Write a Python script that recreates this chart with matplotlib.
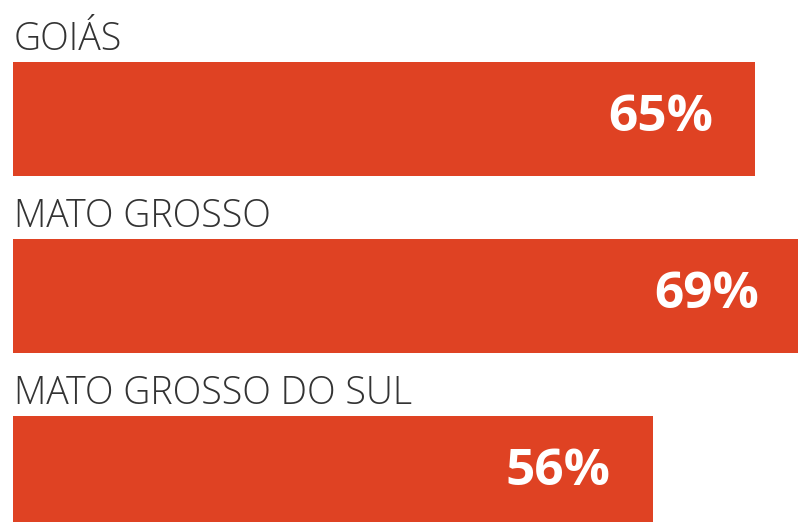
import matplotlib.pyplot as plt

# dados
estados = ['GOIÁS', 'MATO GROSSO', 'MATO GROSSO DO SUL']
valores = [65, 69, 56]
rotulos = ['65%', '69%', '56%']

cor = '#DF4223'

fig = plt.figure(figsize=(7.98, 5.22), dpi=100)
ax = fig.add_axes([12.5 / 798, 0, 1 - 12.5 / 798, 1])

pos = list(range(len(estados)))
ax.barh(pos, valores, height=114 / 177, color=cor, left=0)

ax.set_xlim(0, (798 - 12.5) / 11.43)
ax.set_ylim((522 - 119) / 177, -119 / 177)
ax.axis('off')

for i, (nome, v, r) in enumerate(zip(estados, valores, rotulos)):
    # nome do estado acima da barra
    ax.annotate(nome, xy=(0, i - 57 / 177), xytext=(1.5 * 0.72, 12 * 0.72),
                textcoords='offset points', ha='left', va='baseline',
                fontsize=27, family='Open Sans', fontweight='light', color='#333333',
                annotation_clip=False)
    # valor dentro da barra
    ax.annotate(r, xy=(v, i), xytext=(-42 * 0.72, -12 * 0.72),
                textcoords='offset points', ha='right', va='baseline',
                fontsize=37, family='Open Sans', fontweight='bold', color='white',
                annotation_clip=False)

fig.savefig('out.png', dpi=100)
